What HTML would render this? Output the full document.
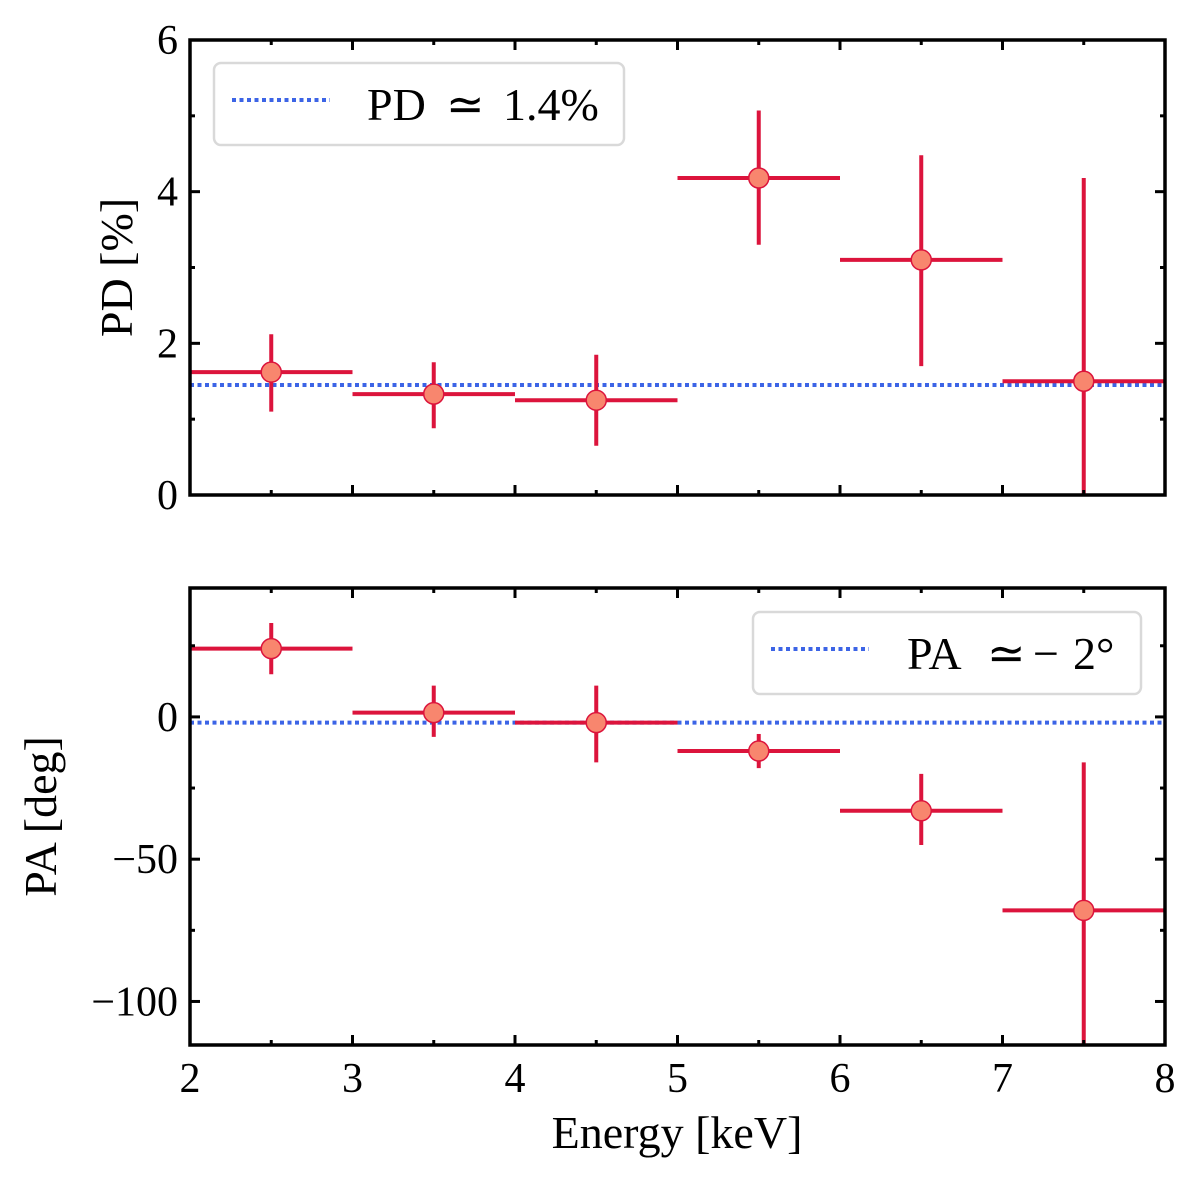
<!DOCTYPE html>
<html><head><meta charset="utf-8"><style>
html,body{margin:0;padding:0;background:#fff;}
svg{display:block;font-family:"Liberation Serif",serif;}
</style></head><body>
<svg id="chart" width="1200" height="1179" viewBox="0 0 1200 1179" xmlns="http://www.w3.org/2000/svg"></svg>
<script>
const energyCenters = [2.5, 3.5, 4.5, 5.5, 6.5, 7.5];
const energyHalfWidth = [0.5, 0.5, 0.5, 0.5, 0.5, 0.5];
const pdValues = [1.62, 1.33, 1.25, 4.18, 3.1, 1.5];
const pdLow = [1.1, 0.88, 0.65, 3.3, 1.7, 0.0];
const pdHigh = [2.12, 1.75, 1.85, 5.07, 4.48, 4.18];
const pdConst = 1.45;
const paValues = [24, 1.5, -2, -12, -33, -68];
const paLow = [15, -7, -16, -18, -45, -115];
const paHigh = [33, 11, 11, -6, -20, -16];
const paConst = -2;
const xTicks = [2, 3, 4, 5, 6, 7, 8];
const pdTicks = [0, 2, 4, 6];
const paTicks = [0, -50, -100];

const NS = "http://www.w3.org/2000/svg";
const svgRoot = document.getElementById('chart');
function el(tag, attrs, parent){const e=document.createElementNS(NS,tag);for(const k in attrs)e.setAttribute(k,attrs[k]);(parent||svgRoot).appendChild(e);return e;}

const X0=190, X1=1165;
const xS = v => X0 + (v-2)/6*(X1-X0);
const topP = {y0:40, y1:495, min:0, max:6};
const botP = {y0:588, y1:1045, min:-115.3, max:45.3};
const yS = (p,v) => p.y1 - (v-p.min)/(p.max-p.min)*(p.y1-p.y0);
const RED='#dc143c', BLUE='#3c64e6';

function panel(p, name, vals, lo, hi, cst, ticks, minorStep, ylabel, ylx, showX){
  const g = el('g', {});
  
  
  const cl = el('line',{x1:X0,x2:X1,y1:yS(p,cst),y2:yS(p,cst),stroke:BLUE,'stroke-width':4,'stroke-dasharray':'4,3.5'},g);
  
  
  for(let i=0;i<vals.length;i++){
    const pg = el('g',{},g);
    
    
    const cx=xS(energyCenters[i]), cy=yS(p,vals[i]);
    el('line',{x1:xS(energyCenters[i]-energyHalfWidth[i]),x2:Math.min(X1,xS(energyCenters[i]+energyHalfWidth[i])),y1:cy,y2:cy,stroke:RED,'stroke-width':4},pg);
    el('line',{x1:cx,x2:cx,y1:Math.max(p.y0,Math.min(p.y1,yS(p,lo[i]))),y2:yS(p,hi[i]),stroke:RED,'stroke-width':4},pg);
    el('circle',{cx:cx,cy:cy,r:10,fill:'#f8866e',stroke:RED,'stroke-width':1.5},pg);
  }
  const fr = el('rect',{x:X0,y:p.y0,width:X1-X0,height:p.y1-p.y0,fill:'none',stroke:'#000','stroke-width':3.5},g);
  
  
  for(let v=2; v<=8.001; v+=0.5){
    const maj = Math.abs(v-Math.round(v))<1e-6, L = maj?10:5, x=xS(v);
    el('line',{x1:x,x2:x,y1:p.y1,y2:p.y1-L,stroke:'#000','stroke-width':3},g);
    el('line',{x1:x,x2:x,y1:p.y0,y2:p.y0+L,stroke:'#000','stroke-width':3},g);
  }
  if(showX){
    xTicks.forEach(v=>{const t=el('text',{x:xS(v),y:p.y1+47,'font-size':42,'text-anchor':'middle'},g);t.textContent=v;
      });
  }
  const start = Math.ceil(p.min/minorStep)*minorStep;
  for(let v=start; v<=p.max; v+=minorStep){
    const maj = ticks.some(t=>Math.abs(t-v)<1e-6), L=maj?10:5, y=yS(p,v);
    el('line',{x1:X0,x2:X0+L,y1:y,y2:y,stroke:'#000','stroke-width':3},g);
    el('line',{x1:X1,x2:X1-L,y1:y,y2:y,stroke:'#000','stroke-width':3},g);
  }
  ticks.forEach(v=>{const t=el('text',{x:X0-12,y:yS(p,v)+14,'font-size':42,'text-anchor':'end'},g);
    t.textContent = v<0 ? '\u2212'+Math.abs(v) : v;
    });
  const yl = el('text',{x:0,y:0,'font-size':46,'text-anchor':'middle',transform:`translate(${ylx},${(p.y0+p.y1)/2}) rotate(-90)`},g);
  yl.textContent = ylabel;
  
  
}
panel(topP,'pd-panel',pdValues,pdLow,pdHigh,pdConst,pdTicks,1,'PD [%]',132,false);
panel(botP,'pa-panel',paValues,paLow,paHigh,paConst,paTicks,25,'PA [deg]',56,true);

function legend(name,x,y,w,h,parts){
  const g = el('g',{});
  
  
  el('rect',{x:x,y:y,width:w,height:h,rx:7,fill:'#fff',stroke:'#d9d9d9','stroke-width':2.5},g);
  el('line',{x1:x+18,x2:x+116,y1:y+h/2-4,y2:y+h/2-4,stroke:BLUE,'stroke-width':4,'stroke-dasharray':'4,3.5'},g);
  const t = el('text',{x:parts[0][0],y:y+h/2+16,'font-size':46},g);
  parts.forEach(pt=>{const s=el('tspan',{x:pt[0]},t);s.textContent=pt[1];});
}
legend('pd-legend',214,63,410,82,[[367,'PD'],[446,'\u2243'],[503,'1.4%']]);
legend('pa-legend',753,612,388,82,[[907,'PA'],[987,'\u2243'],[1033,'\u2212'],[1073,'2\u00b0']]);

const xl = el('text',{x:677,y:1148,'font-size':46,'text-anchor':'middle'});
xl.textContent = 'Energy [keV]';


</script>
</body></html>
